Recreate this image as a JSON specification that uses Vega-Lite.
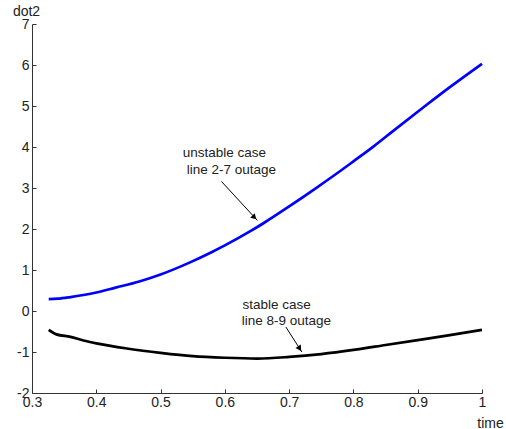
{
  "$schema": "https://vega.github.io/schema/vega-lite/v6.json",
  "autosize": {"type": "none"},
  "padding": {"left": 32, "top": 24, "right": 24, "bottom": 36},
  "width": 450,
  "height": 369,
  "background": "white",
  "config": {
    "view": {"stroke": null},
    "font": "Liberation Sans",
    "axis": {
      "grid": false,
      "domainColor": "#333333",
      "tickColor": "#333333",
      "tickSize": -4,
      "labelColor": "#222222",
      "labelFont": "Liberation Sans",
      "labelFontSize": 14,
      "labelOverlap": false,
      "labelBound": false,
      "labelFlush": false,
      "titleFont": "Liberation Sans",
      "titleFontSize": 14,
      "titleFontWeight": "normal",
      "titleColor": "#222222"
    }
  },
  "datasets": {
    "curves": [
      {"time": 0.326, "dot2": 0.29, "case": "unstable"},
      {"time": 0.34, "dot2": 0.30, "case": "unstable"},
      {"time": 0.36, "dot2": 0.34, "case": "unstable"},
      {"time": 0.38, "dot2": 0.39, "case": "unstable"},
      {"time": 0.40, "dot2": 0.45, "case": "unstable"},
      {"time": 0.43, "dot2": 0.57, "case": "unstable"},
      {"time": 0.467, "dot2": 0.72, "case": "unstable"},
      {"time": 0.50, "dot2": 0.89, "case": "unstable"},
      {"time": 0.545, "dot2": 1.18, "case": "unstable"},
      {"time": 0.58, "dot2": 1.44, "case": "unstable"},
      {"time": 0.60, "dot2": 1.60, "case": "unstable"},
      {"time": 0.639, "dot2": 1.94, "case": "unstable"},
      {"time": 0.66, "dot2": 2.14, "case": "unstable"},
      {"time": 0.70, "dot2": 2.55, "case": "unstable"},
      {"time": 0.743, "dot2": 3.01, "case": "unstable"},
      {"time": 0.78, "dot2": 3.42, "case": "unstable"},
      {"time": 0.80, "dot2": 3.65, "case": "unstable"},
      {"time": 0.831, "dot2": 4.01, "case": "unstable"},
      {"time": 0.86, "dot2": 4.37, "case": "unstable"},
      {"time": 0.90, "dot2": 4.86, "case": "unstable"},
      {"time": 0.914, "dot2": 5.03, "case": "unstable"},
      {"time": 0.95, "dot2": 5.46, "case": "unstable"},
      {"time": 1.00, "dot2": 6.03, "case": "unstable"},
      {"time": 0.326, "dot2": -0.46, "case": "stable"},
      {"time": 0.338, "dot2": -0.57, "case": "stable"},
      {"time": 0.36, "dot2": -0.63, "case": "stable"},
      {"time": 0.38, "dot2": -0.72, "case": "stable"},
      {"time": 0.40, "dot2": -0.79, "case": "stable"},
      {"time": 0.45, "dot2": -0.92, "case": "stable"},
      {"time": 0.50, "dot2": -1.02, "case": "stable"},
      {"time": 0.55, "dot2": -1.10, "case": "stable"},
      {"time": 0.60, "dot2": -1.14, "case": "stable"},
      {"time": 0.65, "dot2": -1.16, "case": "stable"},
      {"time": 0.70, "dot2": -1.12, "case": "stable"},
      {"time": 0.75, "dot2": -1.05, "case": "stable"},
      {"time": 0.80, "dot2": -0.95, "case": "stable"},
      {"time": 0.85, "dot2": -0.83, "case": "stable"},
      {"time": 0.90, "dot2": -0.71, "case": "stable"},
      {"time": 0.95, "dot2": -0.59, "case": "stable"},
      {"time": 1.00, "dot2": -0.46, "case": "stable"}
    ],
    "arrows": [
      {"arrow": "unstable", "x": 0.5947, "y": 3.16, "x2": 0.6506, "y2": 2.21},
      {"arrow": "stable", "x": 0.6949, "y": -0.39, "x2": 0.7198, "y2": -1.0}
    ],
    "notes": [
      {"label": "unstable case", "x": 0.5344, "y": 3.86},
      {"label": "line 2-7 outage", "x": 0.5407, "y": 3.45},
      {"label": "stable case", "x": 0.6274, "y": 0.147},
      {"label": "line 8-9 outage", "x": 0.6263, "y": -0.237}
    ]
  },
  "layer": [
    {
      "data": {"name": "curves"},
      "mark": {"type": "line", "strokeWidth": 2.7, "interpolate": "monotone"},
      "encoding": {
        "x": {
          "field": "time", "type": "quantitative",
          "scale": {"domain": [0.3, 1], "nice": false, "zero": false},
          "axis": {
            "values": [0.3, 0.4, 0.5, 0.6, 0.7, 0.8, 0.9, 1],
            "labelExpr": "'' + datum.value",
            "labelPadding": 6,
            "title": "time",
            "titleX": 458, "titleY": 30,
            "titleAlign": "center", "titleBaseline": "middle"
          }
        },
        "y": {
          "field": "dot2", "type": "quantitative",
          "scale": {"domain": [-2, 7], "nice": false, "zero": false},
          "axis": {
            "values": [-2, -1, 0, 1, 2, 3, 4, 5, 6, 7],
            "labelExpr": "'' + datum.value",
            "labelPadding": 7,
            "title": "dot2",
            "titleAngle": 0,
            "titleX": -6, "titleY": -13,
            "titleAlign": "center", "titleBaseline": "middle"
          }
        },
        "color": {
          "field": "case", "type": "nominal",
          "scale": {"domain": ["unstable", "stable"], "range": ["#0000ff", "#000000"]},
          "legend": null
        },
        "detail": {"field": "case"}
      }
    },
    {
      "data": {"name": "arrows"},
      "mark": {"type": "rule", "color": "#000000", "strokeWidth": 1},
      "encoding": {
        "x": {"field": "x", "type": "quantitative"},
        "y": {"field": "y", "type": "quantitative"},
        "x2": {"field": "x2"},
        "y2": {"field": "y2"}
      }
    },
    {
      "data": {"name": "arrows"},
      "transform": [{"filter": "datum.arrow == 'unstable'"}],
      "mark": {"type": "point", "shape": "triangle-up", "filled": true, "color": "#000000", "size": 40, "angle": 135, "xOffset": -3, "yOffset": -3, "opacity": 1},
      "encoding": {
        "x": {"field": "x2", "type": "quantitative"},
        "y": {"field": "y2", "type": "quantitative"}
      }
    },
    {
      "data": {"name": "arrows"},
      "transform": [{"filter": "datum.arrow == 'stable'"}],
      "mark": {"type": "point", "shape": "triangle-up", "filled": true, "color": "#000000", "size": 40, "angle": 147, "xOffset": -2.2, "yOffset": -3.4, "opacity": 1},
      "encoding": {
        "x": {"field": "x2", "type": "quantitative"},
        "y": {"field": "y2", "type": "quantitative"}
      }
    },
    {
      "data": {"name": "notes"},
      "mark": {"type": "text", "align": "left", "baseline": "middle", "font": "Liberation Sans", "fontSize": 13.5, "color": "#222222"},
      "encoding": {
        "x": {"field": "x", "type": "quantitative"},
        "y": {"field": "y", "type": "quantitative"},
        "text": {"field": "label"}
      }
    }
  ]
}
